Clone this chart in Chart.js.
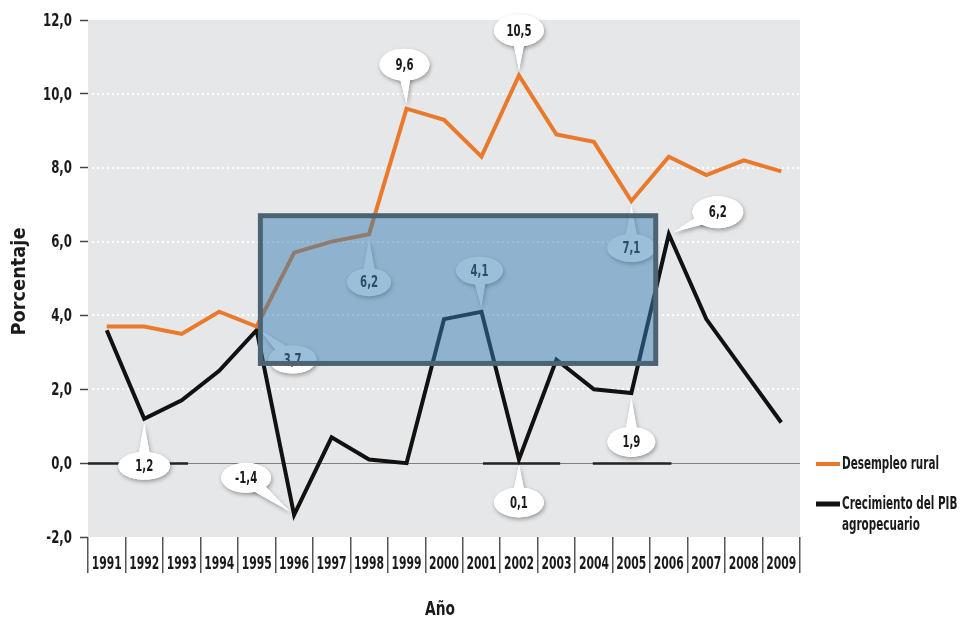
<!DOCTYPE html>
<html><head><meta charset="utf-8">
<script src="https://cdn.jsdelivr.net/npm/chart.js@4.4.0/dist/chart.umd.min.js"></script>
<style>html,body{margin:0;padding:0;background:#fff}#wrap{width:962px;height:624px;position:relative}canvas{display:block}</style>
</head><body><div id="wrap"><canvas id="c" width="962" height="624"></canvas></div>
<script>
// ---------- data ----------
const years = ['1991','1992','1993','1994','1995','1996','1997','1998','1999','2000','2001','2002','2003','2004','2005','2006','2007','2008','2009'];
const desempleoRural = [3.7, 3.7, 3.5, 4.1, 3.7, 5.7, 6.0, 6.2, 9.6, 9.3, 8.3, 10.5, 8.9, 8.7, 7.1, 8.3, 7.8, 8.2, 7.9];
const pibAgropecuario = [3.6, 1.2, 1.7, 2.5, 3.6, -1.4, 0.7, 0.1, 0.0, 3.9, 4.1, 0.1, 2.8, 2.0, 1.9, 6.2, 3.9, 2.5, 1.1];
const yTickValues = [-2, 0, 2, 4, 6, 8, 10, 12];
const yTickLabels = ['-2,0', '0,0', '2,0', '4,0', '6,0', '8,0', '10,0', '12,0'];
const seriesNames = ['Desempleo rural', 'Crecimiento del PIB agropecuario'];
const legendLines = [['Desempleo rural'], ['Crecimiento del PIB', 'agropecuario']];
const xTitle = 'Año';
const yTitle = 'Porcentaje';
// labelled points: [series index, year index]
const calloutPoints = [[1,1],[1,5],[0,4],[0,7],[0,8],[0,11],[1,10],[0,14],[1,15],[1,11],[1,14]];
// highlighted region in data units (category index / value)
const highlight = {from: 4.1, to: 14.65, low: 2.7, high: 6.7};
// dark marks on the zero line (category index ranges)
const zeroMarks = [[-0.5, 2.17], [10.04, 12.1], [12.97, 15.07]];

// ---------- styling ----------
const FF = '"DejaVu Sans Condensed", "DejaVu Sans", sans-serif';
const ORANGE = '#e97a2b', BLACK = '#111111';
const calloutStyle = [
  {dx:0, dy:47, w:52, h:28},
  {dx:-48, dy:-37, w:50, h:30},
  {dx:36, dy:33, w:48, h:28},
  {dx:0, dy:48, w:44, h:28},
  {dx:-2, dy:-44, w:50, h:32},
  {dx:0, dy:-45, w:50, h:32},
  {dx:-2, dy:-41, w:47, h:28},
  {dx:0, dy:47, w:48, h:28},
  {dx:49, dy:-22, w:51, h:32},
  {dx:0, dy:43, w:50, h:30},
  {dx:0, dy:49, w:48, h:30}
];

function fmt(v){ return v.toFixed(1).replace('.', ','); }
function scaleFor(ctx, ref, size, weight, target){
  ctx.font = weight + ' ' + size + 'px ' + FF;
  return target / ctx.measureText(ref).width;
}
function drawText(ctx, s, x, y, size, weight, sx, align, color, rot){
  ctx.save();
  ctx.translate(x, y);
  if (rot) ctx.rotate(rot);
  ctx.scale(sx, 1);
  ctx.font = weight + ' ' + size + 'px ' + FF;
  ctx.textAlign = align; ctx.textBaseline = 'middle';
  ctx.fillStyle = color;
  ctx.fillText(s, 0, 0);
  ctx.restore();
}
function seg(ctx, x0, y0, x1, y1){ ctx.beginPath(); ctx.moveTo(x0, y0); ctx.lineTo(x1, y1); ctx.stroke(); }

const deco = {
  id: 'deco',
  beforeDraw(chart){
    const {ctx, chartArea: a, scales: {x, y}} = chart;
    ctx.save();
    ctx.fillStyle = '#e6e7e9';
    ctx.fillRect(a.left, a.top, a.right - a.left, a.bottom - a.top);
    ctx.strokeStyle = 'rgba(255,255,255,0.95)'; ctx.lineWidth = 2; ctx.setLineDash([2, 3]);
    yTickValues.forEach(v => {
      if (v > -2 && v < 12 && v !== 0) { const py = Math.round(y.getPixelForValue(v)); seg(ctx, a.left + 4, py, a.right, py); }
    });
    ctx.setLineDash([]);
    const y0 = Math.round(y.getPixelForValue(0)) + 0.5;
    ctx.strokeStyle = '#808080'; ctx.lineWidth = 1; seg(ctx, a.left, y0, a.right, y0);
    ctx.strokeStyle = '#222'; ctx.lineWidth = 2.5;
    zeroMarks.forEach(([i0, i1]) => seg(ctx, x.getPixelForValue(i0), y0, x.getPixelForValue(i1), y0));
    ctx.restore();
  },
  afterDatasetsDraw(chart){
    const {ctx, scales: {x, y}} = chart;
    const series = [desempleoRural, pibAgropecuario];
    const bsx = scaleFor(ctx, '10,5', 16, 'bold', 25);
    calloutPoints.forEach(([s, i], k) => {
      const st = calloutStyle[k];
      const px = x.getPixelForValue(i), py = y.getPixelForValue(series[s][i]);
      const cx = px + st.dx, cy = py + st.dy;
      const vx = px - cx, vy = py - cy, L = Math.hypot(vx, vy);
      const ux = vx / L, uy = vy / L;
      const tx = px - ux * 5, ty = py - uy * 5;
      const bw = 8;
      const shape = () => {
        ctx.beginPath();
        ctx.ellipse(cx, cy, st.w / 2, st.h / 2, 0, 0, Math.PI * 2);
        ctx.fill();
        ctx.beginPath();
        ctx.moveTo(cx - uy * bw, cy + ux * bw);
        ctx.lineTo(tx, ty);
        ctx.lineTo(cx + uy * bw, cy - ux * bw);
        ctx.closePath();
        ctx.fill();
      };
      ctx.save();
      ctx.fillStyle = '#ffffff';
      ctx.shadowColor = 'rgba(0,0,0,0.35)'; ctx.shadowBlur = 4; ctx.shadowOffsetX = 1; ctx.shadowOffsetY = 2;
      shape();
      ctx.shadowColor = 'rgba(0,0,0,0)'; ctx.shadowBlur = 0; ctx.shadowOffsetX = 0; ctx.shadowOffsetY = 0;
      shape();
      ctx.restore();
      drawText(ctx, fmt(series[s][i]), cx, cy + 1, 16, 'bold', bsx, 'center', '#1a1a1a');
    });
    // highlighted box
    const x0 = x.getPixelForValue(highlight.from), x1 = x.getPixelForValue(highlight.to);
    const yT = y.getPixelForValue(highlight.high), yB = y.getPixelForValue(highlight.low);
    ctx.save();
    ctx.fillStyle = 'rgba(55,125,180,0.5)';
    ctx.fillRect(x0, yT, x1 - x0, yB - yT);
    ctx.strokeStyle = '#4c6373'; ctx.lineWidth = 5;
    ctx.strokeRect(x0, yT, x1 - x0, yB - yT);
    ctx.restore();
  },
  afterDraw(chart){
    const {ctx, chartArea: a, scales: {x, y}} = chart;
    // y tick labels
    const ysx = scaleFor(ctx, '12,0', 18, 'bold', 29);
    yTickValues.forEach((v, i) => drawText(ctx, yTickLabels[i], a.left - 16, y.getPixelForValue(v) + 1, 18, 'bold', ysx, 'right', '#1a1a1a'));
    // x tick labels
    const xsx = scaleFor(ctx, '1991', 17, 'bold', 30);
    years.forEach((t, i) => drawText(ctx, t, x.getPixelForValue(i), a.bottom + 28, 17, 'bold', xsx, 'center', '#1a1a1a'));
    // titles
    const tsx = scaleFor(ctx, yTitle, 19, 'bold', 108);
    drawText(ctx, yTitle, 20, (a.top + a.bottom) / 2 + 3, 19, 'bold', tsx, 'center', '#1a1a1a', -Math.PI / 2);
    const asx = scaleFor(ctx, xTitle, 19, 'bold', 30);
    drawText(ctx, xTitle, 440, 610, 19, 'bold', asx, 'center', '#1a1a1a');
    // legend
    const lsx = scaleFor(ctx, legendLines[0][0], 17, 'bold', 97);
    const ds = chart.data.datasets;
    const rows = [465, 505];
    ds.forEach((d, k) => {
      ctx.save(); ctx.strokeStyle = d.borderColor; ctx.lineWidth = k === 0 ? 4 : 5;
      seg(ctx, 816, rows[k] - 1, 840, rows[k] - 1); ctx.restore();
      legendLines[k].forEach((line, j) => drawText(ctx, line, 842, rows[k] + j * 21, 17, 'bold', lsx, 'left', '#1a1a1a'));
    });
  }
};

new Chart(document.getElementById('c'), {
  type: 'line',
  data: {
    labels: years,
    datasets: [
      {label: seriesNames[0], data: desempleoRural, borderColor: ORANGE, backgroundColor: ORANGE, borderWidth: 4, pointRadius: 0, tension: 0, fill: false},
      {label: seriesNames[1], data: pibAgropecuario, borderColor: BLACK, backgroundColor: BLACK, borderWidth: 4, pointRadius: 0, tension: 0, fill: false}
    ]
  },
  options: {
    responsive: false,
    animation: false,
    devicePixelRatio: 1,
    layout: {padding: {left: 0, right: 162, top: 20, bottom: 0}},
    plugins: {legend: {display: false}, tooltip: {enabled: false}},
    scales: {
      x: {
        type: 'category', offset: true,
        ticks: {display: false},
        grid: {drawOnChartArea: false, drawTicks: true, tickLength: 36, offset: true, color: '#555', tickColor: '#555', tickWidth: 1.5, lineWidth: 1.5},
        border: {display: false},
        afterFit: s => { s.height = 87; }
      },
      y: {
        min: -2, max: 12,
        afterBuildTicks: s => { s.ticks = yTickValues.map(v => ({value: v})); },
        ticks: {display: false},
        grid: {drawOnChartArea: false, drawTicks: true, tickLength: 8, color: '#444', tickColor: '#444', tickWidth: 1.5},
        border: {display: false},
        afterFit: s => { s.width = 88; }
      }
    }
  },
  plugins: [deco]
});
</script>
</body></html>
